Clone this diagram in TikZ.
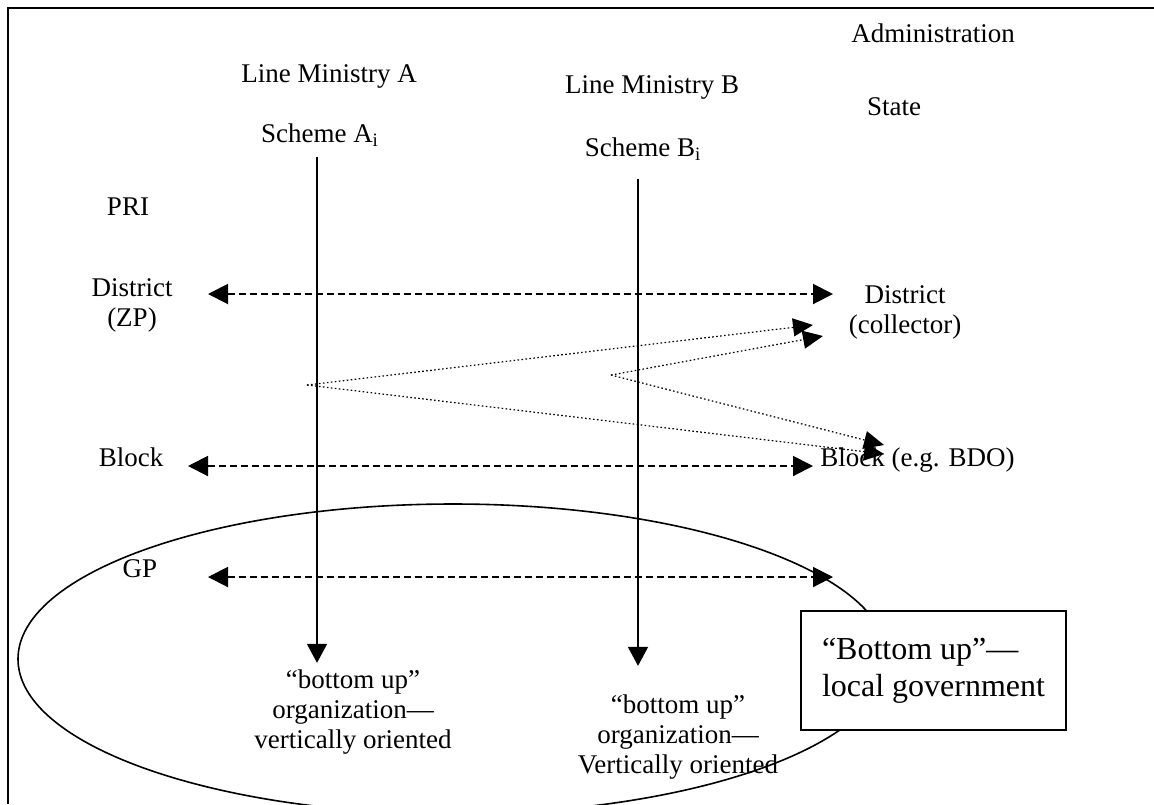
\documentclass[tikz,border=0pt]{standalone}
\usepackage{fontspec}
\setmainfont{Liberation Serif}
\usetikzlibrary{arrows.meta, positioning, shapes.geometric}

\begin{document}
\begin{tikzpicture}[
        x=0.5pt, y=-0.5pt,
        lbl/.style={inner sep=0pt, align=center, font=\fontsize{13.5}{15}\selectfont},
        lgbox/.style={rectangle, draw, line width=1pt, fill=white, minimum width=132.5pt, minimum height=59.5pt, align=left, font=\fontsize{16}{18.5}\selectfont},
        dasharrow/.style={{Triangle[length=10pt, width=10pt]}-{Triangle[length=10pt, width=10pt]}, line width=1pt, dash pattern=on 3.5pt off 2pt},
        dotarrow/.style={-{Triangle[length=10pt, width=9pt]}, line width=0.6pt, dash pattern=on 0.8pt off 1.2pt},
        downarrow/.style={-{Triangle[length=9.5pt, width=10pt]}, line width=0.75pt}
    ]
    \useasboundingbox (0,0) rectangle (1154,804);

    % Frame
    \draw[line width=1.2pt] (8,804) -- (8,8) -- (1154,8);

    % Headers
    \node[lbl, anchor=base] (admin) at (933,42) {Administration};
    \node[lbl, anchor=base] (lmA) at (329,82) {Line Ministry A};
    \node[lbl, anchor=base] (lmB) at (652,93) {Line Ministry B};
    \node[lbl, anchor=base] (state) at (894,115) {State};
    \node[lbl, anchor=base] (schA) at (320,142) {Scheme A\textsubscript{i}};
    \node[lbl, anchor=base] (schB) at (643,156) {Scheme B\textsubscript{i}};
    \node[lbl, anchor=base] (pri) at (128,215) {PRI};

    % Levels
    \node[lbl, anchor=base] (distzp) at (132,326) {District\\(ZP)};
    \node[lbl, anchor=base] (distcol) at (905,333) {District\\(collector)};
    \node[lbl, anchor=base] (blk) at (131,466) {Block};
    \node[lbl, anchor=base west] (bdo) at (820,466) {Block (e.g. BDO)};

    % Local government
    \draw[line width=0.8pt] (453,659) ellipse [x radius=435, y radius=155];
    \node[lbl, anchor=base] (gp) at (140,577) {GP};
    \node[lbl, anchor=base] (buA) at (353,748) {``bottom up''\\organization---\\vertically oriented};
    \node[lbl, anchor=base] (buB) at (678,773) {``bottom up''\\organization---\\Vertically oriented};
    \node[lgbox] (local) at (933.5,670.5) {``Bottom up''---\\local government};

    % Arrow ends
    \coordinate (zpL) at (208,294);
    \coordinate (zpR) at (833,294);
    \coordinate (blkL) at (188,466);
    \coordinate (blkR) at (813,466);
    \coordinate (gpL) at (208,577);
    \coordinate (gpR) at (833,577);
    \coordinate (vA) at (307,385);
    \coordinate (vB) at (611,375);
    \coordinate (colA) at (813,325);
    \coordinate (colB) at (823,336);
    \coordinate (bdoA) at (884,454);
    \coordinate (bdoB) at (884,445);

    % Arrows
    \draw[dasharrow] (zpL) -- (zpR);
    \draw[dasharrow] (blkL) -- (blkR);
    \draw[dasharrow] (gpL) -- (gpR);
    \draw[downarrow, shorten <=5pt, shorten >=3pt] ([xshift=-1.5pt]schA.south) -- ([xshift=-1.5pt]schA.south |- buA.north);
    \draw[downarrow, shorten <=9pt, shorten >=14pt] ([xshift=-2.5pt]schB.south) -- ([xshift=-2.5pt]schB.south |- buB.north);
    \draw[dotarrow] (vA) -- (colA);
    \draw[dotarrow] (vA) -- (bdoA);
    \draw[dotarrow] (vB) -- (colB);
    \draw[dotarrow] (vB) -- (bdoB);

\end{tikzpicture}
\end{document}
